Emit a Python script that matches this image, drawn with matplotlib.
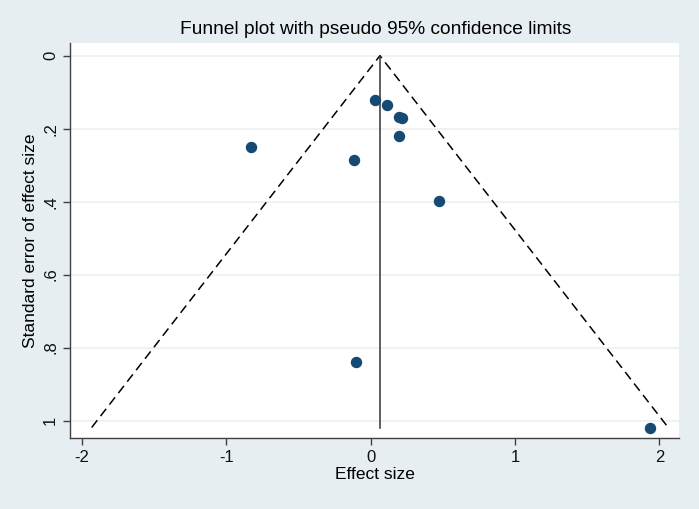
import matplotlib
matplotlib.use("Agg")
import matplotlib.pyplot as plt
import numpy as np

plt.rcParams['font.family'] = ['Liberation Sans', 'DejaVu Sans']

# study effect sizes and their standard errors
effect = [0.030, 0.113, 0.194, 0.217, 0.196, -0.832, -0.118, 0.476, -0.104, 1.936]
se = [0.121, 0.135, 0.167, 0.170, 0.220, 0.251, 0.286, 0.398, 0.839, 1.019]
pooled = 0.064

x_ticks = [-2, -1, 0, 1, 2]
y_ticks = [0, 0.2, 0.4, 0.6, 0.8, 1]
y_labels = ['0', '.2', '.4', '.6', '.8', '1']

bg = '#E6EEF1'
navy = '#174A72'

fig = plt.figure(figsize=(6.99, 5.09), dpi=100, facecolor=bg)
ax = fig.add_axes([0.100, 0.140, 0.872, 0.775])
ax.set_facecolor('white')

# pseudo 95% confidence limits
se_max = max(se)
ax.plot([pooled - 1.96 * se_max, pooled, pooled + 1.96 * se_max], [se_max, 0, se_max],
        color='black', linestyle=(0, (6, 3.5)), linewidth=1.1, zorder=2)
ax.plot([pooled, pooled], [0, se_max], color='#333333', linewidth=1.1, zorder=2)

ax.scatter(effect, se, s=52, color=navy, edgecolors=navy, zorder=3)

ax.set_xlim(-2.084, 2.139)
ax.set_ylim(1.047, -0.034)
ax.set_xticks(x_ticks)
ax.set_xticklabels([str(t) for t in x_ticks])
ax.set_yticks(y_ticks)
ax.set_yticklabels(y_labels, rotation=90, va='center')
ax.grid(axis='y', color='#EAF1F3', linewidth=1.2, zorder=0)
ax.set_axisbelow(True)

for side in ['top', 'right']:
    ax.spines[side].set_visible(False)
for side in ['left', 'bottom']:
    ax.spines[side].set_color('#404040')
    ax.spines[side].set_linewidth(1.0)
ax.tick_params(axis='both', direction='out', length=5, width=1.0, color='#404040',
               labelsize=12, labelcolor='#111111')

ax.set_xlabel('Effect size', fontsize=12.5, labelpad=2)
ax.set_ylabel('Standard error of effect size', fontsize=12.5, labelpad=4)
fig.text(0.537, 0.942, 'Funnel plot with pseudo 95% confidence limits',
         ha='center', va='center', fontsize=13.8)

plt.savefig('out.png', dpi=100, facecolor=bg)
